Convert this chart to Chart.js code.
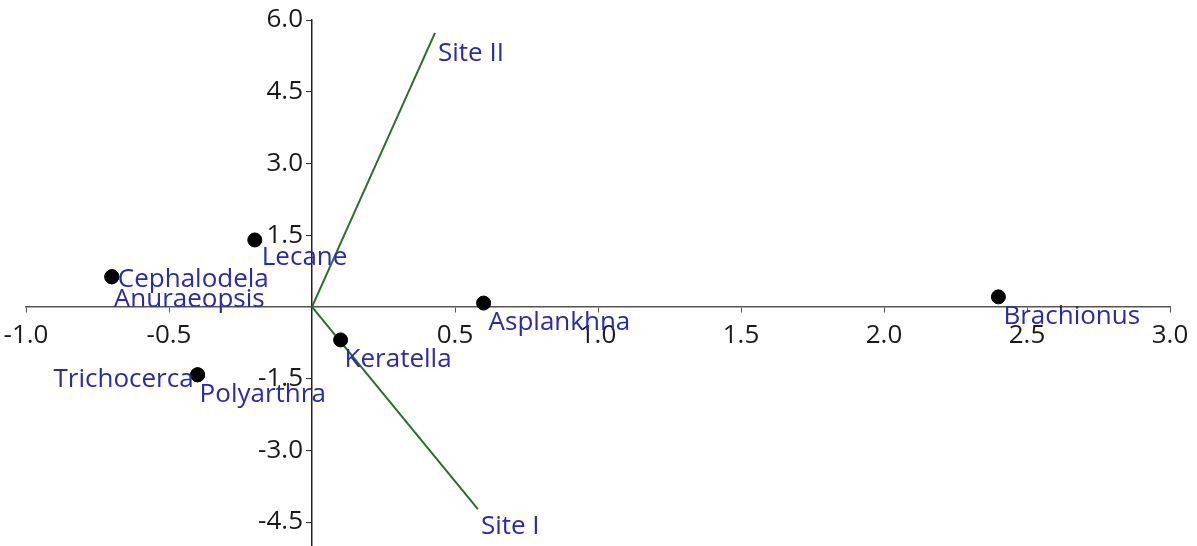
<!DOCTYPE html>
<html>
<head>
<meta charset="utf-8">
<script src="https://cdn.jsdelivr.net/npm/chart.js@4"></script>
<style>
html,body{margin:0;padding:0;background:#fff;overflow:hidden;width:1197px;height:546px;}
#wrap{position:absolute;left:-14px;top:0;width:1214px;height:566px;}
</style>
</head>
<body>
<div id="wrap"><canvas id="c" width="1214" height="566"></canvas></div>
<script>
// ---- data ----
const species = ['Cephalodela','Anuraeopsis','Lecane','Trichocerca','Polyarthra','Keratella','Asplankhna','Brachionus'];
const speciesX = [-0.70, -0.70, -0.20, -0.40, -0.40, 0.10, 0.60, 2.40];
const speciesY = [0.63, 0.63, 1.40, -1.42, -1.42, -0.69, 0.08, 0.21];
const sites = ['Site I','Site II'];
const siteX = [0.58, 0.43];
const siteY = [-4.23, 5.73];
const xTicks = [-1.0, -0.5, 0.5, 1.0, 1.5, 2.0, 2.5, 3.0];
const yTicks = [-4.5, -3.0, -1.5, 1.5, 3.0, 4.5, 6.0];

// ---- label placement styles (pixel offsets from the mark) ----
const defaultOffset = {dx: 5, dy: 27, align: 'left'};
const labelOffsets = {
  'Cephalodela': {dx: 6, dy: 10, align: 'left'},
  'Anuraeopsis': {dx: 2, dy: 30, align: 'left'},
  'Trichocerca': {dx: -4, dy: 12, align: 'right'},
  'Polyarthra': {dx: 2, dy: 27, align: 'left'},
  'Lecane': {dx: 7, dy: 25, align: 'left'},
  'Keratella': {dx: 4, dy: 27, align: 'left'},
  'Site I': {dx: 3, dy: 25, align: 'left'},
  'Site II': {dx: 3, dy: 28, align: 'left'}
};
const yLabelGap = 9;

const FONT = "'Open Sans', 'Noto Sans', sans-serif";
const labelColor = '#2b2ba8';
const lineColor = '#2a6e2a';

const pointData = species.map((s, i) => ({x: speciesX[i], y: speciesY[i], label: s}));
const siteDatasets = sites.map((s, i) => ({
  type: 'scatter',
  label: s,
  data: [{x: 0, y: 0}, {x: siteX[i], y: siteY[i]}],
  showLine: true,
  borderColor: lineColor,
  borderWidth: 2,
  pointRadius: 0,
  order: 2
}));

const labelPlugin = {
  id: 'markLabels',
  afterDatasetsDraw(chart) {
    const ctx = chart.ctx;
    const xs = chart.scales.x, ys = chart.scales.y;
    ctx.save();
    ctx.font = "26px " + FONT;
    ctx.fillStyle = labelColor;
    ctx.textBaseline = 'alphabetic';
    const items = pointData.concat(sites.map((s, i) => ({x: siteX[i], y: siteY[i], label: s})));
    items.forEach(p => {
      const o = labelOffsets[p.label] || defaultOffset;
      const px = xs.getPixelForValue(p.x) + o.dx;
      const py = ys.getPixelForValue(p.y) + o.dy;
      ctx.textAlign = o.align;
      ctx.fillText(p.label, px, py);
    });
    ctx.restore();
  }
};

const tickFont = {family: FONT, size: 26};

new Chart(document.getElementById('c'), {
  type: 'scatter',
  data: {
    datasets: [
      {
        label: 'Species',
        data: pointData,
        backgroundColor: '#000',
        borderColor: '#000',
        pointRadius: 7,
        pointHoverRadius: 7,
        order: 1
      }
    ].concat(siteDatasets)
  },
  options: {
    responsive: false,
    animation: false,
    devicePixelRatio: 1,
    layout: {padding: {left: 40, right: 30, top: 20, bottom: 20}},
    plugins: {legend: {display: false}, tooltip: {enabled: false}},
    scales: {
      x: {
        type: 'linear',
        min: -1.0,
        max: 3.0,
        position: {y: 0},
        afterBuildTicks: s => { s.ticks = xTicks.map(v => ({value: v})); },
        ticks: {
          callback: v => Number(v).toFixed(1),
          font: tickFont,
          color: '#1a1a1a',
          padding: 8,
          maxRotation: 0,
          autoSkip: false
        },
        grid: {drawOnChartArea: false, tickLength: 5, color: '#555', lineWidth: 1},
        border: {color: '#555', width: 1.5}
      },
      y: {
        type: 'linear',
        min: -5.0,
        max: 6.0,
        position: {x: 0},
        afterBuildTicks: s => { s.ticks = yTicks.map(v => ({value: v})); },
        afterUpdate: s => {
          if (!s._gapPatched) {
            const orig = s._computeLabelItems.bind(s);
            s._computeLabelItems = (area) => orig(area).map(it => {
              const t = it.options.translation;
              it.options.translation = [t[0] - yLabelGap, t[1]];
              return it;
            });
            s._gapPatched = true;
          }
        },
        ticks: {
          callback: v => Number(v).toFixed(1),
          font: tickFont,
          color: '#1a1a1a',
          padding: 4,
          autoSkip: false
        },
        grid: {drawOnChartArea: false, tickLength: 5, color: '#333', lineWidth: 1},
        border: {color: '#222', width: 1.5}
      }
    }
  },
  plugins: [labelPlugin]
});
</script>
</body>
</html>
